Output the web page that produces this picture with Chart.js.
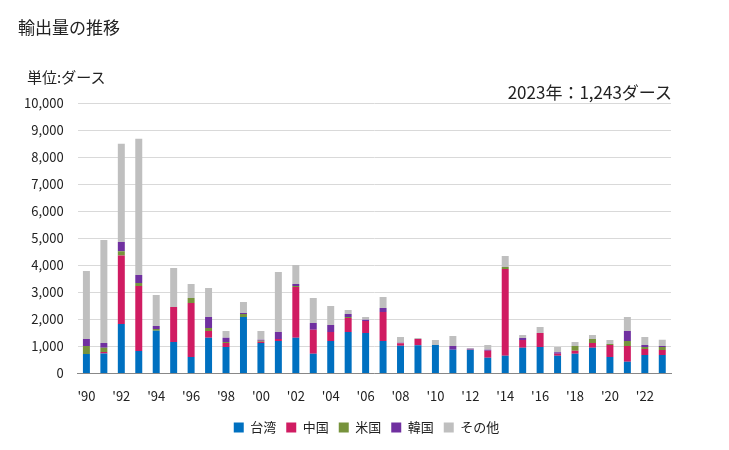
<!DOCTYPE html>
<html>
<head>
<meta charset="utf-8">
<script src="https://cdn.jsdelivr.net/npm/chart.js@4/dist/chart.umd.min.js"></script>
<style>
  body { margin:0; background:#fff; font-family:"Noto Sans CJK JP", sans-serif; }
  #wrap { position:relative; width:729px; height:450px; }
  #title { position:absolute; left:18px; top:14px; font-size:17px; color:#222; }
  #unit { position:absolute; left:27px; top:66px; font-size:15px; color:#222; }
  #note { position:absolute; right:57px; top:79px; font-size:17px; color:#222; }
  canvas { position:absolute; left:0; top:0; }
</style>
</head>
<body>
<div id="wrap">
  <canvas id="chart" width="729" height="450"></canvas>
  <div id="title">輸出量の推移</div>
  <div id="unit">単位:ダース</div>
  <div id="note">2023年：1,243ダース</div>
</div>
<script>
// years 1990..2023
const years = [];
for (let y = 1990; y <= 2023; y++) years.push("'" + String(y).slice(2));

const taiwan = [716,740,1827,827,1580,1160,605,1321,975,2086,1123,1198,1321,728,1198,1531,1494,1198,1025,1037,1049,877,877,580,654,951,975,654,728,951,605,432,679,679];
const china  = [0,50,2531,2408,0,1297,2000,247,148,0,50,74,1877,889,333,518,444,1074,86,235,0,0,20,260,3210,284,519,74,112,172,444,580,222,185];
const usa    = [296,160,161,111,62,0,185,111,37,112,37,0,37,0,0,37,0,0,0,0,0,0,0,0,74,0,0,0,172,149,37,186,74,111];
const korea  = [260,173,345,296,111,0,0,407,161,37,37,259,74,247,259,112,50,148,25,0,0,135,10,37,0,74,0,50,0,0,0,370,74,37];
const other  = [2518,3815,3630,5037,1148,1444,519,1074,247,407,321,2222,703,926,704,148,98,407,210,37,186,371,30,172,408,111,222,197,148,148,149,518,297,231];

const yTicks = [0,1000,2000,3000,4000,5000,6000,7000,8000,9000,10000];

const font = { family:'"Noto Sans CJK JP", sans-serif', size:13 };

const series = [
  ['台湾', taiwan, '#0070c0'],
  ['中国', china, '#d01c62'],
  ['米国', usa, '#77933c'],
  ['韓国', korea, '#7030a0'],
  ['その他', other, '#bfbfbf'],
];

// nudge the legend right so it sits where the original one does
const shiftLegend = {
  id: 'shiftLegend',
  afterLayout(chart) {
    chart.legend.left += 26;
    chart.legend.right += 26;
  }
};

new Chart(document.getElementById('chart'), {
  type: 'bar',
  data: {
    labels: years,
    datasets: series.map(([name, data, color]) => ({
      label: name, data: data, backgroundColor: color,
      barPercentage: 0.4, categoryPercentage: 1.0
    }))
  },
  options: {
    responsive: false,
    animation: false,
    layout: { padding: { top: 103, left: 10, right: 58, bottom: 6 } },
    plugins: {
      legend: {
        position: 'bottom',
        labels: { boxWidth: 10, boxHeight: 10, color:'#222', font: font, padding: 10 }
      },
      tooltip: { enabled: false }
    },
    scales: {
      x: {
        stacked: true,
        grid: { display: false },
        border: { color: '#888' },
        ticks: {
          color: '#222', font: font, autoSkip: false, maxRotation: 0, padding: 7,
          callback: (v, i) => i % 2 === 0 ? years[i] : ''
        }
      },
      y: {
        stacked: true,
        min: 0, max: 10000,
        afterBuildTicks: axis => { axis.ticks = yTicks.map(v => ({ value: v })); },
        grid: { color: '#d9d9d9', drawTicks: false },
        border: { display: false },
        ticks: {
          color: '#222', font: font, padding: 14,
          callback: v => v.toLocaleString('en-US')
        }
      }
    }
  },
  plugins: [shiftLegend]
});
</script>
</body>
</html>
